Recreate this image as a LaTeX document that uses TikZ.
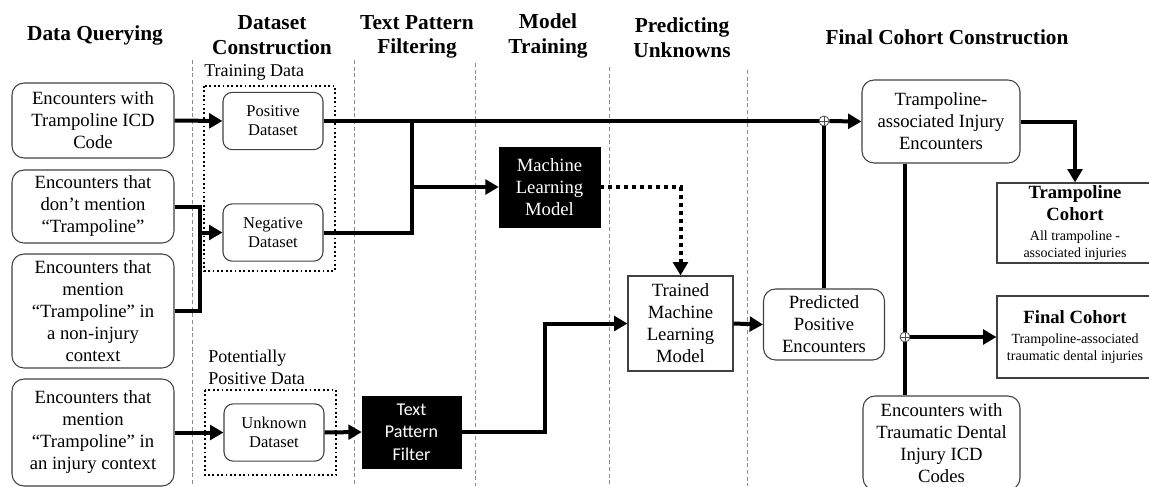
\documentclass[tikz,border=0pt]{standalone}
\usepackage{fontspec}
\setmainfont{Liberation Serif}
\newfontfamily\filterfont{Carlito}
\usetikzlibrary{arrows.meta}
\newcommand{\cohorthead}{\bfseries\fontsize{14}{16.5}\selectfont}

\begin{document}
\begin{tikzpicture}[x=0.75pt,y=-0.75pt,inner sep=0pt,
flow/.style={line width=3pt},
flowarr/.style={line width=3pt,-{Triangle[length=10pt,width=11pt]}},
dotarr/.style={line width=3pt,dash pattern=on 3pt off 3pt,-{Triangle[length=10pt,width=11pt]}},
phase/.style={font=\bfseries\fontsize{16}{18.5}\selectfont,align=center},
sep/.style={draw=black!45,line width=0.6pt,dash pattern=on 3pt off 2pt},
group/.style={line width=1.3pt,dotted},
srcbox/.style={draw=black!75,line width=0.8pt,rounded corners=9pt,align=center,minimum width=121.5pt,font=\fontsize{14}{16.5}\selectfont},
databox/.style={draw=black!75,line width=0.8pt,rounded corners=7pt,align=center,minimum width=75pt,minimum height=43pt,font=\fontsize{12.4}{14.3}\selectfont},
blackbox/.style={draw,fill=black,text=white,align=center},
cohort/.style={draw=black!75,line width=0.8pt,align=center,minimum width=117pt,font=\fontsize{10.5}{13}\selectfont},
junct/.style={draw=black!70,fill=white,circle,line width=0.6pt,minimum size=7.5pt,
  path picture={\draw[black!70,line width=0.5pt] (path picture bounding box.north) -- (path picture bounding box.south)
  (path picture bounding box.west) -- (path picture bounding box.east);}}]

\clip (0,0) rectangle (1149,486);

% phase headings and separators
\draw (95,35) node[phase] (hquery) {Data Querying};
\draw (272,35) node[phase] (hdata) {Dataset\\Construction};
\draw (417,37) node[phase] (hfilter) {Text Pattern\\Filtering};
\draw (548,36) node[phase] (htrain) {Model\\Training};
\draw (682,38) node[phase] (hpred) {Predicting\\Unknowns};
\draw (947,37) node[phase] (hfinal) {Final Cohort Construction};

\draw[sep] (192,60) -- (192,486);
\draw[sep] (354,60) -- (354,486);
\draw[sep] (475,63) -- (475,486);
\draw[sep] (609,67) -- (609,486);
\draw[sep] (747,70) -- (747,486);

% queried encounters
\draw (93,120.5) node[srcbox,minimum height=56.25pt] (q1) {Encounters with\\Trampoline ICD\\Code};
\draw (93,206.5) node[srcbox,minimum height=54.75pt] (q2) {Encounters that\\don’t mention\\“Trampoline”};
\draw (93,311) node[srcbox,minimum height=85.5pt] (q3) {Encounters that\\mention\\“Trampoline” in\\a non-injury\\context};
\draw (93,432.5) node[srcbox,minimum height=80.25pt] (q4) {Encounters that\\mention\\“Trampoline” in\\an injury context};

% datasets
\draw[group] (204,86) rectangle (335,271);
\draw[group] (205,390) rectangle (336,475);
\draw (204,72) node[anchor=west,font=\fontsize{13.5}{16.5}\selectfont] (ltrain) {Training Data};
\draw (208,367) node[anchor=west,align=left,font=\fontsize{13.5}{16.5}\selectfont] (lpot) {Potentially\\Positive Data};
\draw (273,121) node[databox] (pos) {Positive\\Dataset};
\draw (273,232.5) node[databox] (neg) {Negative\\Dataset};
\draw (274,432.5) node[databox] (unk) {Unknown\\Dataset};

% filtering, training, prediction
\draw (411.5,432) node[blackbox,minimum width=74.25pt,minimum height=54pt,font=\filterfont\fontsize{13.5}{17}\selectfont] (filter) {Text\\Pattern\\Filter};
\draw (549.5,187) node[blackbox,minimum width=75.75pt,minimum height=60pt,font=\fontsize{14}{16.5}\selectfont] (ml) {Machine\\Learning\\Model};
\draw (680.5,323.5) node[draw=black!75,line width=0.8pt,align=center,minimum width=78.75pt,minimum height=71.25pt,font=\fontsize{14}{16.5}\selectfont] (trained) {Trained\\Machine\\Learning\\Model};
\draw (824,324.5) node[srcbox,minimum width=90.75pt,minimum height=53.25pt] (pred) {Predicted\\Positive\\Encounters};

% final cohort
\draw (941,121.5) node[srcbox,minimum width=118.5pt,minimum height=62.25pt] (tai) {Trampoline-\\associated Injury\\Encounters};
\draw (941.5,443) node[srcbox,minimum width=117.75pt,minimum height=70.5pt] (tdi) {Encounters with\\Traumatic Dental\\Injury ICD\\Codes};
\draw (1075,223) node[cohort,minimum height=60pt] (tcoh) {\cohorthead Trampoline\\[3.5pt]\cohorthead Cohort\\[2pt]All trampoline -\\associated injuries};
\draw (1075,337) node[cohort,minimum height=61.5pt] (fcoh) {\cohorthead Final Cohort\\[2pt]Trampoline-associated\\traumatic dental injuries};

\draw (824,121) node[junct] (c1) {};
\draw (905,337) node[junct] (c2) {};

% connectors
\coordinate (j1) at (200,232.5);
\coordinate (j2) at (412,187);
\coordinate (j3) at (545,323.5);
\draw[flowarr] (q1.east) -- (pos.west);
\draw[flow] (q2.east) -| (j1);
\draw[flow] (q3.east) -| (j1);
\draw[flowarr] (j1) -- (neg.west);
\draw[flowarr] (q4.east) -- (unk.west);
\draw[flowarr] (unk.east) -- (filter.west);
\draw[flow] (pos.east) -- (c1);
\draw[flow] (neg.east) -| (j2 |- pos.east);
\draw[flowarr] (j2) -- (ml.west);
\draw[dotarr] (ml.east) -| (trained.north);
\draw[flowarr] (filter.east) -| (j3) -- (trained.west);
\draw[flowarr] (trained.east) -- (pred.west);
\draw[flow] (pred.north) -- (c1);
\draw[flowarr] (c1) -- (tai.west);
\draw[flowarr] (tai.east) -| (tcoh.north);
\draw[flow] (c2 |- tai.south) -- (c2);
\draw[flow] (c2) -- (c2 |- tdi.north);
\draw[flowarr] (c2) -- (fcoh.west);
\end{tikzpicture}
\end{document}
